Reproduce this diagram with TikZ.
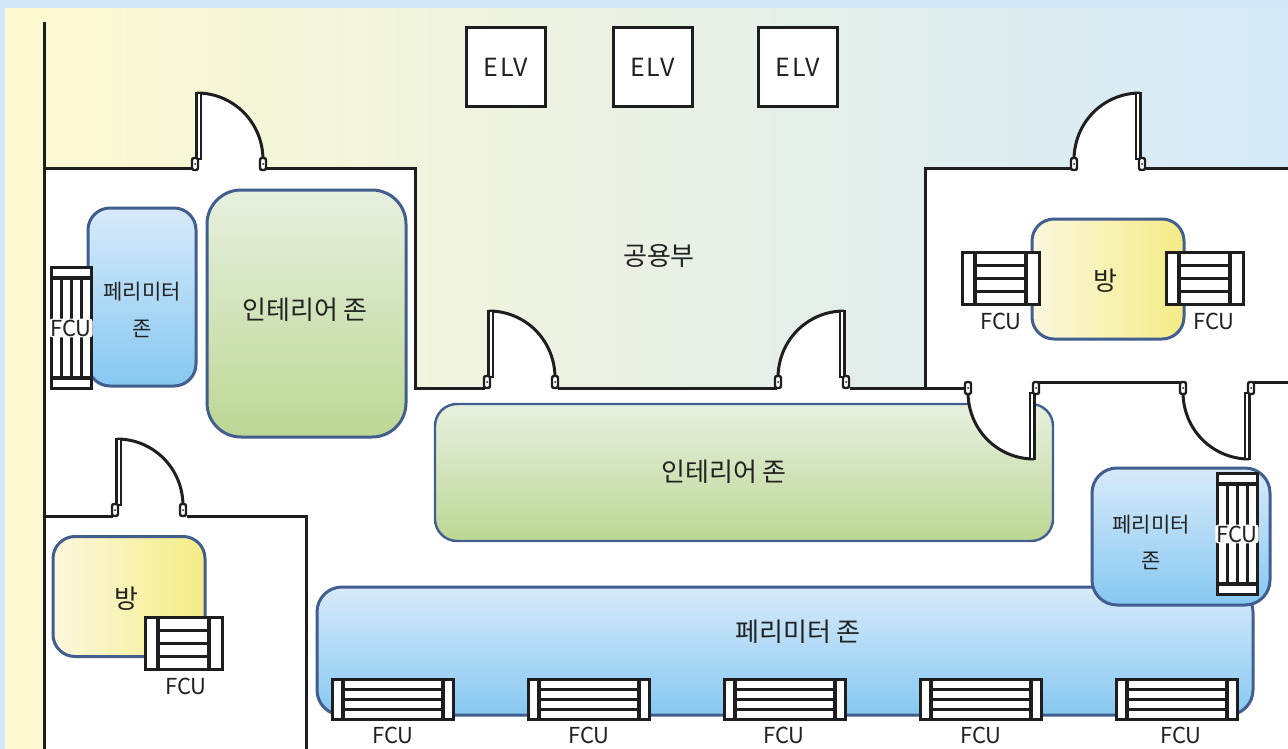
\documentclass[tikz,border=0pt]{standalone}
\usepackage{fontspec}
\setmainfont{Noto Sans CJK KR}
\usepackage{tikz}
\definecolor{skyback}{HTML}{D3E9FB}
\definecolor{hallleft}{HTML}{FEF9D1}
\definecolor{hallmid}{HTML}{EFF3D9}
\definecolor{hallright}{HTML}{D5E9F8}
\definecolor{wallcol}{HTML}{1E1E1E}
\definecolor{zoneline}{HTML}{415E8E}
\definecolor{greentop}{HTML}{E7F0E0}
\definecolor{greenbot}{HTML}{BCD794}
\definecolor{bluetop}{HTML}{D8EAFA}
\definecolor{bluebot}{HTML}{86C8F1}
\definecolor{roomleft}{HTML}{FBF8DE}
\definecolor{roomright}{HTML}{F4EC85}
\definecolor{textcol}{HTML}{222222}

\begin{document}
\begin{tikzpicture}
    [   x=1pt,y=-1pt,
        wall/.style = {draw=wallcol,line width=3pt,line join=miter},
        bar/.style = {draw=wallcol,line width=3.2pt},
        zone/.style = {draw=zoneline,line width=3pt,inner sep=0pt},
        greenzone/.style = {zone,top color=greentop,bottom color=greenbot},
        bluezone/.style = {zone,top color=bluetop,bottom color=bluebot},
        roomzone/.style = {zone,left color=roomleft,right color=roomright,minimum width=152pt,minimum height=120pt,rounded corners=22pt},
        elvbox/.style = {draw=wallcol,line width=3pt,fill=white,minimum size=79pt,inner sep=0pt,font=\fontsize{25}{25}\selectfont\addfontfeature{LetterSpace=7},text=textcol},
        bigtext/.style = {text=textcol,inner sep=0pt,font=\fontsize{26}{26}\selectfont},
        smalltext/.style = {text=textcol,inner sep=0pt,font=\fontsize{21}{21}\selectfont},
        fcutext/.style = {text=textcol,inner sep=0pt,font=\fontsize{22}{22}\selectfont},
        fcumask/.style = {fcutext,fill=white,rounded corners=3pt,inner xsep=1pt,inner ysep=1pt},
        % door: hinge at the origin, leaf going up, swing to the right
        door/.pic = {
            \fill[white] (2,-71) .. controls (38,-71) and (68,-42) .. (68,-4) -- (68,6) -- (2,6) -- cycle;
            \draw[wall] (2,-71) .. controls (38,-71) and (68,-42) .. (68,-4);
            \draw[draw=wallcol,line width=2.2pt,fill=white] (1.5,-5) rectangle (6,-71);
            \foreach \hx in {0,68} {
                \draw[draw=wallcol,line width=2.4pt,fill=white,rounded corners=2pt] (\hx-3,-6) rectangle (\hx+3,6);
                \fill[wallcol] (\hx,0) circle (1pt);
            }
        },
        fcuroom/.pic = {
            \draw[bar,fill=white] (-38.5,-26) rectangle (38.5,26);
            \foreach \bx in {-26,25} \draw[bar] (\bx,-26) -- (\bx,26);
            \foreach \sy in {-13,0,13} \draw[bar] (-26,\sy) -- (25,\sy);
        },
        fcuwide/.pic = {
            \draw[bar,fill=white] (-60.5,-20) rectangle (60.5,20);
            \foreach \bx in {-50,50} \draw[bar] (\bx,-20) -- (\bx,20);
            \foreach \sy in {-10,0,10} \draw[bar] (-50,\sy) -- (50,\sy);
        }
    ]
    \useasboundingbox (0,0) rectangle (1288,749);
    % Hall and floor
    \fill[skyback] (0,0) rectangle (1288,749);
    \shade[left color=hallleft,middle color=hallmid,right color=hallright] (5,9) rectangle (1288,749);
    \fill[white] (44,169) -- (415,169) -- (415,388) -- (925,388) -- (925,169) -- (1288,169) -- (1288,749) -- (44,749) -- cycle;
    % Walls
    \draw[wall] (44,22) -- (44,749);
    \draw[wall] (44,169) -- (193,169);
    \draw[wall] (266,169) -- (415,169) -- (415,388) -- (485,388);
    \draw[wall] (558,388) -- (777,388);
    \draw[wall] (850,388) -- (965,388);
    \draw[wall] (925,388) -- (925,169) -- (1072,169);
    \draw[wall] (1144,169) -- (1288,169);
    \draw[wall] (1037,382) -- (1180,382);
    \draw[wall] (1252,382) -- (1288,382);
    \draw[wall] (44,516) -- (113,516);
    \draw[wall] (187,516) -- (306,516) -- (306,749);
    % Elevators
    \node[elvbox] (elv1) at (506,67.5) {ELV};
    \node[elvbox] (elv2) at (652.5,67.5) {ELV};
    \node[elvbox] (elv3) at (798,67.5) {ELV};
    \node[bigtext] (hall) at (659,256) {공용부};
    % Interior zones
    \node[greenzone,minimum width=199pt,minimum height=247pt,rounded corners=34pt] (inner1) at (306.5,313.5) {};
    \node[bigtext] (inner1text) at (305,310) {인테리어 존};
    \node[greenzone,line width=2.4pt,minimum width=618pt,minimum height=137pt,rounded corners=22pt] (inner2) at (744,472.5) {};
    % Perimeter zones
    \node[bluezone,minimum width=108pt,minimum height=178pt,rounded corners=22pt] (peri1) at (142,297) {};
    \node[smalltext] (peri1a) at (142,292) {페리미터};
    \node[smalltext] (peri1b) at (142,329) {존};
    \node[bluezone,minimum width=936pt,minimum height=128pt,rounded corners=25pt] (peri2) at (785,651) {};
    \node[bluezone,minimum width=178pt,minimum height=137pt,rounded corners=25pt] (peri3) at (1181,536.5) {};
    \node[smalltext] (peri3a) at (1151,525) {페리미터};
    \node[smalltext] (peri3b) at (1151,561) {존};
    \node[bigtext] (peri2text) at (798,632) {페리미터 존};
    \node[bigtext] (inner2text) at (724,472) {인테리어 존};
    % Rooms
    \node[roomzone] (room1) at (129,596.5) {};
    \node[bigtext] (room1text) at (126,599) {방};
    \node[roomzone] (room2) at (1108,279) {};
    \node[bigtext] (room2text) at (1105,281) {방};
    % Doors
    \pic at (195,164) {door};
    \pic[xscale=-1] at (1142,164) {door};
    \pic at (487,382) {door};
    \pic[xscale=-1] at (846,382) {door};
    \pic at (115,510) {door};
    \pic[xscale=-1,yscale=-1] at (1036,388) {door};
    \pic[xscale=-1,yscale=-1] at (1251,388) {door};
    % FCU in the rooms
    \pic at (184,643.5) {fcuroom};
    \node[fcutext] (fcu1) at (186,686) {FCU};
    \pic at (1001,278.5) {fcuroom};
    \node[fcutext] (fcu2) at (1001,321) {FCU};
    \pic at (1205,278.5) {fcuroom};
    \node[fcutext] (fcu3) at (1214,321) {FCU};
    % FCU along the facade
    \foreach \fx/\tx/\fn in {393/393/4,589/589/5,785/784/6,981/981/7,1177/1181/8} {
        \pic at (\fx,699.5) {fcuwide};
        \node[fcutext] (fcu\fn) at (\tx,735) {FCU};
    }
    % FCU standing upright
    \pic[rotate=90] at (71.5,328) {fcuwide};
    \node[fcumask] (fcu9) at (71,328) {FCU};
    \pic[rotate=90] at (1237.5,534) {fcuwide};
    \node[fcumask] (fcu10) at (1237,534) {FCU};
\end{tikzpicture}
\end{document}
